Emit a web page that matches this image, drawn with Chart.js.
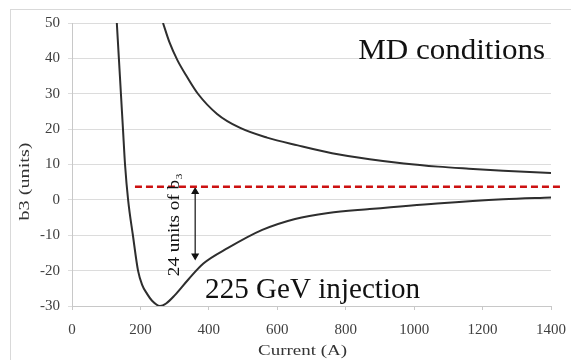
<!DOCTYPE html>
<html>
<head>
<meta charset="utf-8">
<script src="https://cdn.jsdelivr.net/npm/chart.js@4.4.1/dist/chart.umd.min.js"></script>
<style>
  html, body { margin: 0; padding: 0; background: #fff; }
</style>
</head>
<body>
<canvas id="chart" width="571" height="360"></canvas>
<script>
// b3 (units) against current (A)
var injectionCurrent = [131, 137, 143, 149, 155, 164, 178, 193, 205, 219, 234, 257, 275, 300, 340, 384, 456, 556, 652, 749, 870, 1067, 1260, 1400];
var injectionB3 = [50, 40, 30, 20, 10, 0, -10, -20, -24, -26.5, -28.5, -30, -29.3, -27, -22.5, -18, -13.6, -8.5, -5.4, -3.7, -2.6, -1, 0.2, 0.7];

var mdCurrent = [266, 285, 308, 336, 368, 424, 490, 570, 660, 760, 870, 970, 1070, 1160, 1260, 1400];
var mdB3 = [50, 44.5, 39.5, 34.8, 30, 24.3, 20.4, 17.6, 15.4, 13.2, 11.5, 10.3, 9.4, 8.8, 8.2, 7.6];

var refCurrent = [184, 1432];
var refB3 = [3.7, 3.7];

var arrowCurrent = [360, 360];
var arrowB3 = [2.3, -15.8];

var xMin = 0, xMax = 1400, xStep = 200;
var yMin = -30, yMax = 50, yStep = 10;

var serif = "'Liberation Serif', 'Times New Roman', serif";

function points(xs, ys) {
    var out = [];
    for (var i = 0; i < xs.length; i++) {
        out.push({x: xs[i], y: ys[i]});
    }
    return out;
}

// draws text at a given size, squeezed or stretched to a given width
function label(ctx, text, x, y, size, width, align, angle) {
    ctx.save();
    ctx.font = size + 'px ' + serif;
    var sx = width / ctx.measureText(text).width;
    ctx.translate(x, y);
    if (angle) ctx.rotate(angle);
    ctx.scale(sx, 1);
    ctx.textAlign = align;
    ctx.fillText(text, 0, 0);
    ctx.restore();
}

var notes = {
    id: 'notes',
    beforeDraw: function(chart) {
        var ctx = chart.ctx;
        ctx.save();
        ctx.strokeStyle = '#d9d9d9';
        ctx.lineWidth = 1;
        ctx.strokeRect(10.5, 9.5, 620, 400);
        ctx.restore();
    },
    afterDatasetsDraw: function(chart) {
        var ctx = chart.ctx;
        var x = chart.scales.x, y = chart.scales.y;
        var a = chart.chartArea;
        ctx.save();
        ctx.fillStyle = '#111';
        ctx.textBaseline = 'alphabetic';
        label(ctx, 'MD conditions', x.getPixelForValue(1383), y.getPixelForValue(39.8), 30, 187, 'right');
        label(ctx, '225 GeV injection', x.getPixelForValue(389), y.getPixelForValue(-27.7), 30, 215, 'left');
        ctx.textBaseline = 'middle';
        label(ctx, '24 units of b\u2083', x.getPixelForValue(301), y.getPixelForValue(-7), 17, 103, 'center', -Math.PI / 2);

        // axis titles
        ctx.fillStyle = '#333';
        label(ctx, 'Current (A)', (a.left + a.right) / 2 - 9, 351, 15, 89, 'center');
        label(ctx, 'b3 (units)', 25, (a.top + a.bottom) / 2 + 17, 15, 78, 'center', -Math.PI / 2);
        ctx.restore();
    }
};

var lineColor = '#2e2e2e';

new Chart(document.getElementById('chart'), {
    type: 'line',
    data: {
        datasets: [{
            data: points(injectionCurrent, injectionB3),
            borderColor: lineColor,
            borderWidth: 2,
            pointRadius: 0,
            cubicInterpolationMode: 'monotone'
        }, {
            data: points(mdCurrent, mdB3),
            borderColor: lineColor,
            borderWidth: 2,
            pointRadius: 0,
            cubicInterpolationMode: 'monotone'
        }, {
            data: points(refCurrent, refB3),
            borderColor: '#cc1111',
            borderWidth: 2.5,
            borderDash: [7, 4],
            pointRadius: 0,
            clip: false
        }, {
            data: points(arrowCurrent, arrowB3),
            borderColor: '#111',
            backgroundColor: '#111',
            borderWidth: 1.2,
            pointStyle: 'triangle',
            pointRadius: 3.5,
            pointRotation: [0, 180]
        }]
    },
    options: {
        responsive: false,
        animation: false,
        devicePixelRatio: 1,
        layout: { padding: { left: 0, top: 23, right: 20, bottom: 0 } },
        plugins: {
            legend: { display: false },
            tooltip: { enabled: false }
        },
        scales: {
            x: {
                type: 'linear',
                min: xMin,
                max: xMax,
                afterFit: function(scale) {
                    scale.height = 54;
                    scale.paddingLeft = 0;
                    scale.paddingRight = 0;
                },
                grid: { drawOnChartArea: false, drawTicks: true, tickLength: 4, color: '#c8c8c8' },
                border: { color: '#c8c8c8' },
                ticks: {
                    stepSize: xStep,
                    padding: 11,
                    color: '#404040',
                    font: { family: serif, size: 15 },
                    callback: function(v) { return String(v); }
                }
            },
            y: {
                type: 'linear',
                min: yMin,
                max: yMax,
                afterFit: function(scale) { scale.width = 72; },
                grid: { color: '#dcdcdc', tickLength: 4 },
                border: { color: '#c8c8c8' },
                ticks: {
                    stepSize: yStep,
                    padding: 8,
                    color: '#404040',
                    font: { family: serif, size: 15 },
                    callback: function(v) { return String(v); }
                }
            }
        }
    },
    plugins: [notes]
});
</script>
</body>
</html>
